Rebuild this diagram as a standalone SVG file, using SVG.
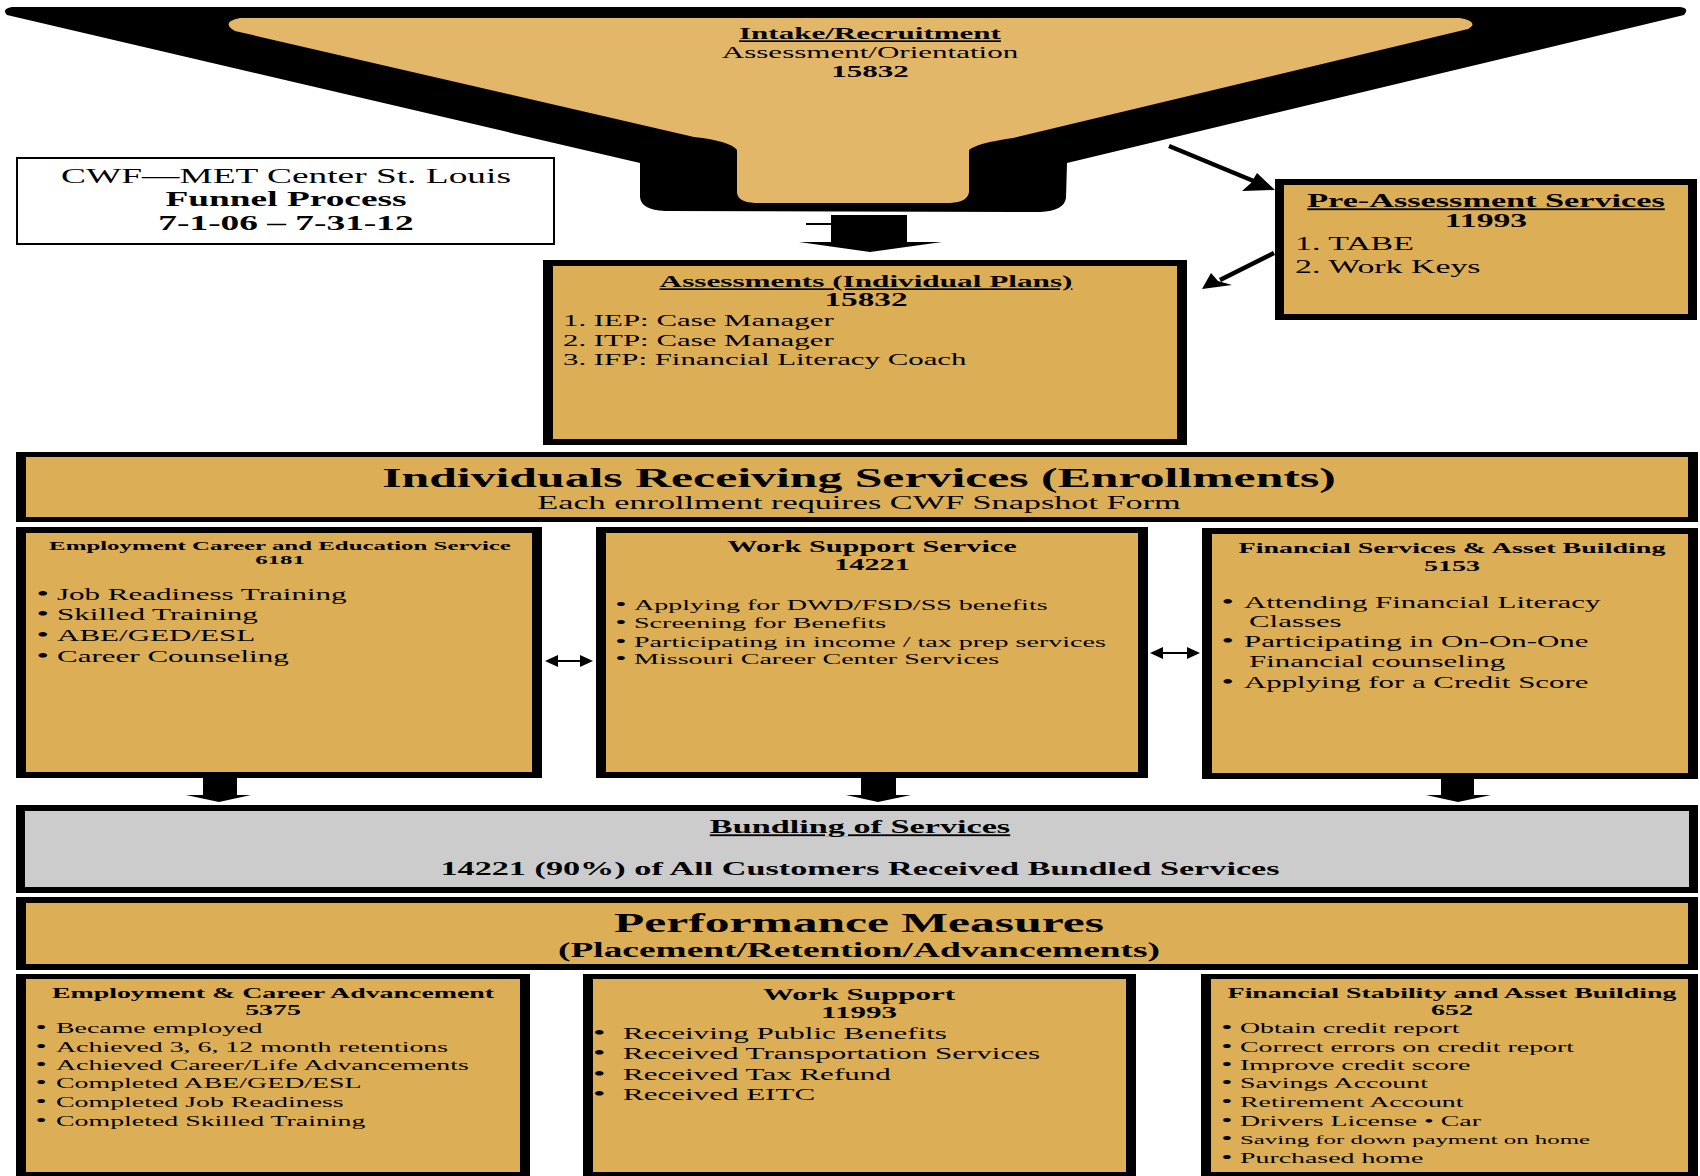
<svg xmlns="http://www.w3.org/2000/svg" width="1700" height="1176" viewBox="0 0 1700 1176">
<style>
text{font-family:"Liberation Serif","Times New Roman",serif;fill:#000}
.b{font-weight:bold}
.u{text-decoration:underline}
.m{text-anchor:middle}
.d{font-size:1.15em}
.k{fill:#000}
.f{fill:#DCAE56}
.g{fill:#CCCCCC}
</style>
<rect width="1700" height="1176" fill="#fff"/>

<g id="intake">
<path class="k" d="M12,7 L1680,7 Q1690,8 1684,15 L1067,163 L1066,198 Q1064,211 1040,212 L665,211 Q641,210 640,197 L640,163 L7,15 Q1,9 12,7 Z"/>
<path fill="#E2B76A" d="M240,18 L1460,18 Q1480,22 1468,29 L1013,138 Q977,143 969,150 L969,192 Q968,202 950,203 L755,203 Q737,202 737,192 L737,150 Q730,141 694,137 L235,31 Q220,22 240,18 Z"/>
<g transform="translate(870,0) scale(1.87,1)">
<text class="b u m" y="39" font-size="16.6">Intake/Recruitment</text>
<text class="m" y="58" font-size="16.6">Assessment/Orientation</text>
<text class="b m" y="77" font-size="16.6">15832</text>
</g>
</g>

<g id="legend">
<rect x="17" y="158" width="537" height="86" fill="#fff" stroke="#000" stroke-width="2"/>
<g transform="translate(286,0) scale(1.87,1)">
<text class="m" y="183" font-size="20">CWF—MET Center St. Louis</text>
<text class="b m" y="206" font-size="20">Funnel Process</text>
<text class="b m" y="230" font-size="20">7-1-06 – 7-31-12</text>
</g>
</g>

<g id="preassessment">
<rect class="k" x="1275" y="179" width="422" height="141"/>
<rect class="f" x="1284" y="185" width="404" height="129"/>
<g transform="translate(1486,0) scale(1.87,1)">
<text class="b u m" y="207" font-size="18.3">Pre-Assessment Services</text>
<text class="b m" y="227" font-size="18">11993</text>
</g>
<g transform="translate(1295,0) scale(1.87,1)">
<text y="250" font-size="18.1">1. TABE</text>
<text y="273" font-size="18.1">2. Work Keys</text>
</g>
</g>

<g id="assessments">
<rect class="k" x="543" y="260" width="644" height="185"/>
<rect class="f" x="553" y="266" width="624" height="173"/>
<g transform="translate(866,0) scale(1.87,1)">
<text class="b u m" y="287" font-size="16.7">Assessments (Individual Plans)</text>
<text class="b m" y="306" font-size="17.8">15832</text>
</g>
<g transform="translate(563,0) scale(1.87,1)">
<text y="326" font-size="16.5">1. IEP: Case Manager</text>
<text y="346" font-size="16.5">2. ITP: Case Manager</text>
<text y="365" font-size="16.5">3. IFP: Financial Literacy Coach</text>
</g>
</g>

<g id="enrollments">
<rect class="k" x="16" y="452" width="1682" height="70"/>
<rect class="f" x="26" y="457" width="1662" height="60"/>
<g transform="translate(859,0) scale(1.87,1)">
<text class="b m" y="487" font-size="26.6">Individuals Receiving Services (Enrollments)</text>
<text class="m" y="509" font-size="18.3">Each enrollment requires CWF Snapshot Form</text>
</g>
</g>

<g id="svc-employment">
<rect class="k" x="16" y="527" width="526" height="251"/>
<rect class="f" x="26" y="533" width="506" height="239"/>
<g transform="translate(280,0) scale(1.87,1)">
<text class="b m" y="550" font-size="13.3">Employment Career and Education Service</text>
<text class="b m" y="564" font-size="13.3">6181</text>
</g>
<g transform="translate(57,0) scale(1.87,1)" font-size="16.6">
<text class="d" x="-11" y="600">•</text><text y="600">Job Readiness Training</text>
<text class="d" x="-11" y="620">•</text><text y="620">Skilled Training</text>
<text class="d" x="-11" y="641">•</text><text y="641">ABE/GED/ESL</text>
<text class="d" x="-11" y="662">•</text><text y="662">Career Counseling</text>
</g>
</g>

<g id="svc-work">
<rect class="k" x="596" y="527" width="552" height="251"/>
<rect class="f" x="606" y="533" width="532" height="239"/>
<g transform="translate(872,0) scale(1.87,1)">
<text class="b m" y="552" font-size="16.2">Work Support Service</text>
<text class="b m" y="570" font-size="16.2">14221</text>
</g>
<g transform="translate(634,0) scale(1.87,1)" font-size="15">
<text class="d" x="-10" y="610">•</text><text y="610">Applying for DWD/FSD/SS benefits</text>
<text class="d" x="-10" y="628">•</text><text y="628">Screening for Benefits</text>
<text class="d" x="-10" y="647">•</text><text y="647">Participating in income / tax prep services</text>
<text class="d" x="-10" y="664">•</text><text y="664">Missouri Career Center Services</text>
</g>
</g>

<g id="svc-financial">
<rect class="k" x="1202" y="528" width="496" height="251"/>
<rect class="f" x="1212" y="534" width="476" height="239"/>
<g transform="translate(1452,0) scale(1.87,1)">
<text class="b m" y="553" font-size="15">Financial Services &amp; Asset Building</text>
<text class="b m" y="571" font-size="15">5153</text>
</g>
<g transform="translate(1244,0) scale(1.87,1)" font-size="16.5">
<text class="d" x="-12" y="608">•</text><text y="608">Attending Financial Literacy</text>
<text x="2.7" y="627">Classes</text>
<text class="d" x="-12" y="647">•</text><text y="647">Participating in On-On-One</text>
<text x="2.7" y="667">Financial counseling</text>
<text class="d" x="-12" y="688">•</text><text y="688">Applying for a Credit Score</text>
</g>
</g>

<g id="bundling">
<rect class="k" x="16" y="805" width="1682" height="88"/>
<rect class="g" x="25" y="811" width="1664" height="76"/>
<g transform="translate(860,0) scale(1.87,1)">
<text class="b u m" y="833" font-size="18.3">Bundling of Services</text>
<text class="b m" y="875" font-size="18.3">14221 (90%) of All Customers Received Bundled Services</text>
</g>
</g>

<g id="performance">
<rect class="k" x="16" y="897" width="1682" height="73"/>
<rect class="f" x="26" y="903" width="1662" height="61"/>
<g transform="translate(859,0) scale(1.87,1)">
<text class="b m" y="932" font-size="26.5">Performance Measures</text>
<text class="b m" y="957" font-size="20">(Placement/Retention/Advancements)</text>
</g>
</g>

<g id="pm-employment">
<rect class="k" x="16" y="974" width="514" height="202"/>
<rect class="f" x="26" y="979" width="494" height="193"/>
<g transform="translate(273,0) scale(1.87,1)">
<text class="b m" y="998" font-size="14.9">Employment &amp; Career Advancement</text>
<text class="b m" y="1015" font-size="14.9">5375</text>
</g>
<g transform="translate(56,0) scale(1.87,1)" font-size="14.9">
<text class="d" x="-11" y="1033">•</text><text y="1033">Became employed</text>
<text class="d" x="-11" y="1052">•</text><text y="1052">Achieved 3, 6, 12 month retentions</text>
<text class="d" x="-11" y="1070">•</text><text y="1070">Achieved Career/Life Advancements</text>
<text class="d" x="-11" y="1088">•</text><text y="1088">Completed ABE/GED/ESL</text>
<text class="d" x="-11" y="1107">•</text><text y="1107">Completed Job Readiness</text>
<text class="d" x="-11" y="1126">•</text><text y="1126">Completed Skilled Training</text>
</g>
</g>

<g id="pm-work">
<rect class="k" x="583" y="974" width="553" height="202"/>
<rect class="f" x="593" y="979" width="533" height="193"/>
<g transform="translate(859,0) scale(1.87,1)">
<text class="b m" y="1000" font-size="16.6">Work Support</text>
<text class="b m" y="1018" font-size="16.6">11993</text>
</g>
<g transform="translate(623,0) scale(1.87,1)" font-size="16.6">
<text class="d" x="-16" y="1039">•</text><text y="1039">Receiving Public Benefits</text>
<text class="d" x="-16" y="1059">•</text><text y="1059">Received Transportation Services</text>
<text class="d" x="-16" y="1080">•</text><text y="1080">Received Tax Refund</text>
<text class="d" x="-16" y="1100">•</text><text y="1100">Received EITC</text>
</g>
</g>

<g id="pm-financial">
<rect class="k" x="1201" y="974" width="497" height="202"/>
<rect class="f" x="1211" y="979" width="477" height="193"/>
<g transform="translate(1452,0) scale(1.87,1)">
<text class="b m" y="998" font-size="14.9">Financial Stability and Asset Building</text>
<text class="b m" y="1015" font-size="14.9">652</text>
</g>
<g transform="translate(1240,0) scale(1.87,1)" font-size="14.9">
<text class="d" x="-10" y="1033">•</text><text y="1033">Obtain credit report</text>
<text class="d" x="-10" y="1052">•</text><text y="1052">Correct errors on credit report</text>
<text class="d" x="-10" y="1070">•</text><text y="1070">Improve credit score</text>
<text class="d" x="-10" y="1088">•</text><text y="1088">Savings Account</text>
<text class="d" x="-10" y="1107">•</text><text y="1107">Retirement Account</text>
<text class="d" x="-10" y="1126">•</text><text y="1126">Drivers License • Car</text>
<text class="d" x="-10" y="1144">•</text><text y="1144" font-size="13.3">Saving for down payment on home</text>
<text class="d" x="-10" y="1163">•</text><text y="1163">Purchased home</text>
</g>
</g>

<g id="connectors">
<polygon class="k" points="831,215 907,215 907,242 942,242 870,252 799,242 831,242"/>
<line x1="806" y1="224" x2="831" y2="224" stroke="#000" stroke-width="2"/>
<line x1="1169" y1="146" x2="1256" y2="182" stroke="#000" stroke-width="4.5"/>
<polygon class="k" points="1275,190 1242,191 1251,183 1257,173"/>
<line x1="1274" y1="253" x2="1220" y2="280" stroke="#000" stroke-width="4.5"/>
<polygon class="k" points="1202,289 1211,273 1218,281 1232,285"/>
<line x1="555" y1="661" x2="583" y2="661" stroke="#000" stroke-width="2"/>
<polygon class="k" points="545,661 558,655 558,667"/>
<polygon class="k" points="593,661 580,655 580,667"/>
<line x1="1160" y1="653" x2="1190" y2="653" stroke="#000" stroke-width="2"/>
<polygon class="k" points="1150,653 1163,647 1163,659"/>
<polygon class="k" points="1200,653 1187,647 1187,659"/>
<polygon class="k" points="203,778 237,778 237,795 251,795 219,802 186,795 203,795"/>
<polygon class="k" points="861,778 896,778 896,795 911,795 878,802 846,795 861,795"/>
<polygon class="k" points="1441,779 1474,779 1474,795 1491,795 1458,802 1426,795 1441,795"/>
</g>
</svg>
